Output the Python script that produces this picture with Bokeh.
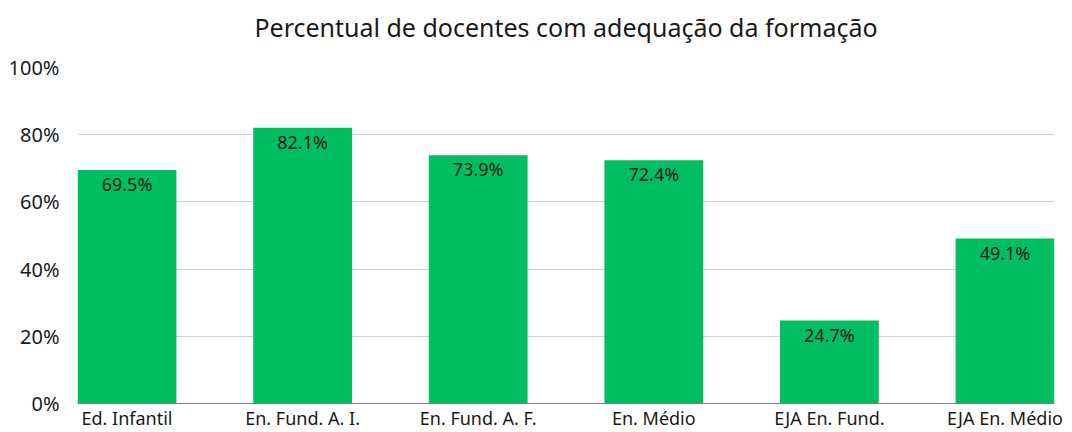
from bokeh.plotting import figure
from bokeh.models import ColumnDataSource, FixedTicker, Range1d, Title
from bokeh.core.properties import value
from bokeh.embed import file_html
from bokeh.resources import INLINE

categories = ["Ed. Infantil", "En. Fund. A. I.", "En. Fund. A. F.", "En. Médio", "EJA En. Fund.", "EJA En. Médio"]
values = [69.5, 82.1, 73.9, 72.4, 24.7, 49.1]
y_ticks = [0, 20, 40, 60, 80, 100]
title = "Percentual de docentes com adequação da formação"

xs = list(range(len(categories)))
labels = [f"{v:.1f}%" for v in values]
src = ColumnDataSource(dict(x=xs, top=values, label=labels))

p = figure(width=1072, height=432, output_backend="svg", toolbar_location=None,
           x_range=Range1d(-0.282, len(categories) - 1 + 0.282), y_range=Range1d(0, 100),
           min_border_left=77, min_border_right=18, min_border_top=67, min_border_bottom=0,
           title_location=None)

p.vbar(x="x", top="top", width=0.5625, bottom=0, source=src, color="#00BF63", line_color=None)
p.text(x="x", y="top", text="label", source=src, text_align="center", text_baseline="middle",
       y_offset=14, text_font=value("Noto Sans"), text_font_size="18px", text_color="#1a1a1a")

spacer = Title(text=" ", text_font_size="20px", standoff=0)
p.add_layout(spacer, "above")
main_title = Title(text=title, align="center", text_font="Noto Sans", text_font_style="normal",
                   text_font_size="25px", text_color="#1a1a1a", standoff=0)
p.add_layout(main_title, "above")

p.xaxis.ticker = FixedTicker(ticks=xs)
p.xaxis.major_label_overrides = {i: c for i, c in enumerate(categories)}
p.xaxis.major_tick_line_color = None
p.xaxis.minor_tick_line_color = None
p.xaxis.major_tick_out = 0
p.xaxis.axis_line_color = "#808080"
p.xaxis.major_label_text_font = "Noto Sans"
p.xaxis.major_label_text_font_size = "18px"
p.xaxis.major_label_text_color = "#1a1a1a"
p.xaxis.major_label_standoff = 2

p.yaxis.ticker = FixedTicker(ticks=y_ticks)
p.yaxis.major_label_overrides = {t: f"{t}%" for t in y_ticks}
p.yaxis.major_tick_line_color = None
p.yaxis.minor_tick_line_color = None
p.yaxis.axis_line_color = None
p.yaxis.major_label_text_font = "Noto Sans"
p.yaxis.major_label_text_font_size = "20px"
p.yaxis.major_label_text_color = "#1a1a1a"
p.yaxis.major_label_standoff = 12

p.xgrid.grid_line_color = None
p.ygrid.ticker = FixedTicker(ticks=y_ticks)
p.ygrid.grid_line_color = "#d0d0d0"
p.outline_line_color = None

open("out.html", "w").write(file_html(p, INLINE))
